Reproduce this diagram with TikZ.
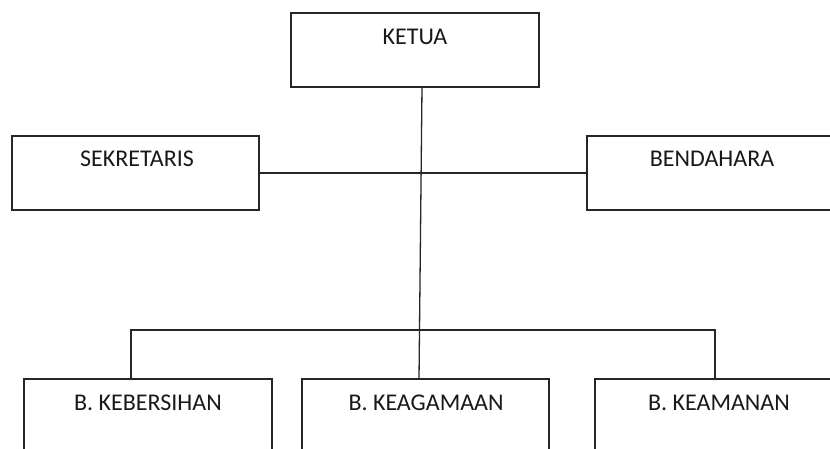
\documentclass[tikz,border=0pt]{standalone}
\usepackage{fontspec}
\setmainfont{Carlito}
\begin{document}
\begin{tikzpicture}[x=1pt,y=-1pt,
  box/.style={draw=black!85, line width=1.4pt, fill=white, rectangle, outer sep=0pt, inner sep=0pt},
  lbl/.style={inner sep=0pt, text=black!90, font=\fontsize{24}{28}\selectfont},
  conn/.style={draw=black!85, line width=1.3pt}]
\useasboundingbox (0,0) rectangle (830,448);
\clip (0,0) rectangle (830,448);
\fill[white] (0,0) rectangle (830,448);
\node[box, minimum width=248pt, minimum height=74pt] (ketua) at (415,50) {};
\node[box, minimum width=247pt, minimum height=74pt] (sekretaris) at (135.5,173) {};
\node[box, minimum width=258pt, minimum height=74pt] (bendahara) at (716,173) {};
\node[box, minimum width=248pt, minimum height=90pt] (kebersihan) at (148,424) {};
\node[box, minimum width=247pt, minimum height=90pt] (keagamaan) at (425.5,424) {};
\node[box, minimum width=250pt, minimum height=90pt] (keamanan) at (720,424) {};
\coordinate (busmid) at (419.5,330);
\draw[conn] ([xshift=7pt]ketua.south) -- ([xshift=-6.5pt]keagamaan.north);
\draw[conn] (sekretaris.east) -- (bendahara.west);
\draw[conn] ([xshift=-17pt]kebersihan.north) |- (busmid) -| ([xshift=-5pt]keamanan.north);
\node[lbl] (tketua) at (415,37) {KETUA};
\node[lbl] (tsek) at (137,159) {SEKRETARIS};
\node[lbl] (tbend) at (712,159) {BENDAHARA};
\node[lbl] (tkeb) at (148,402.5) {B. KEBERSIHAN};
\node[lbl] (tkeag) at (426,402.5) {B. KEAGAMAAN};
\node[lbl] (tkeam) at (719,402.5) {B. KEAMANAN};
\end{tikzpicture}
\end{document}
